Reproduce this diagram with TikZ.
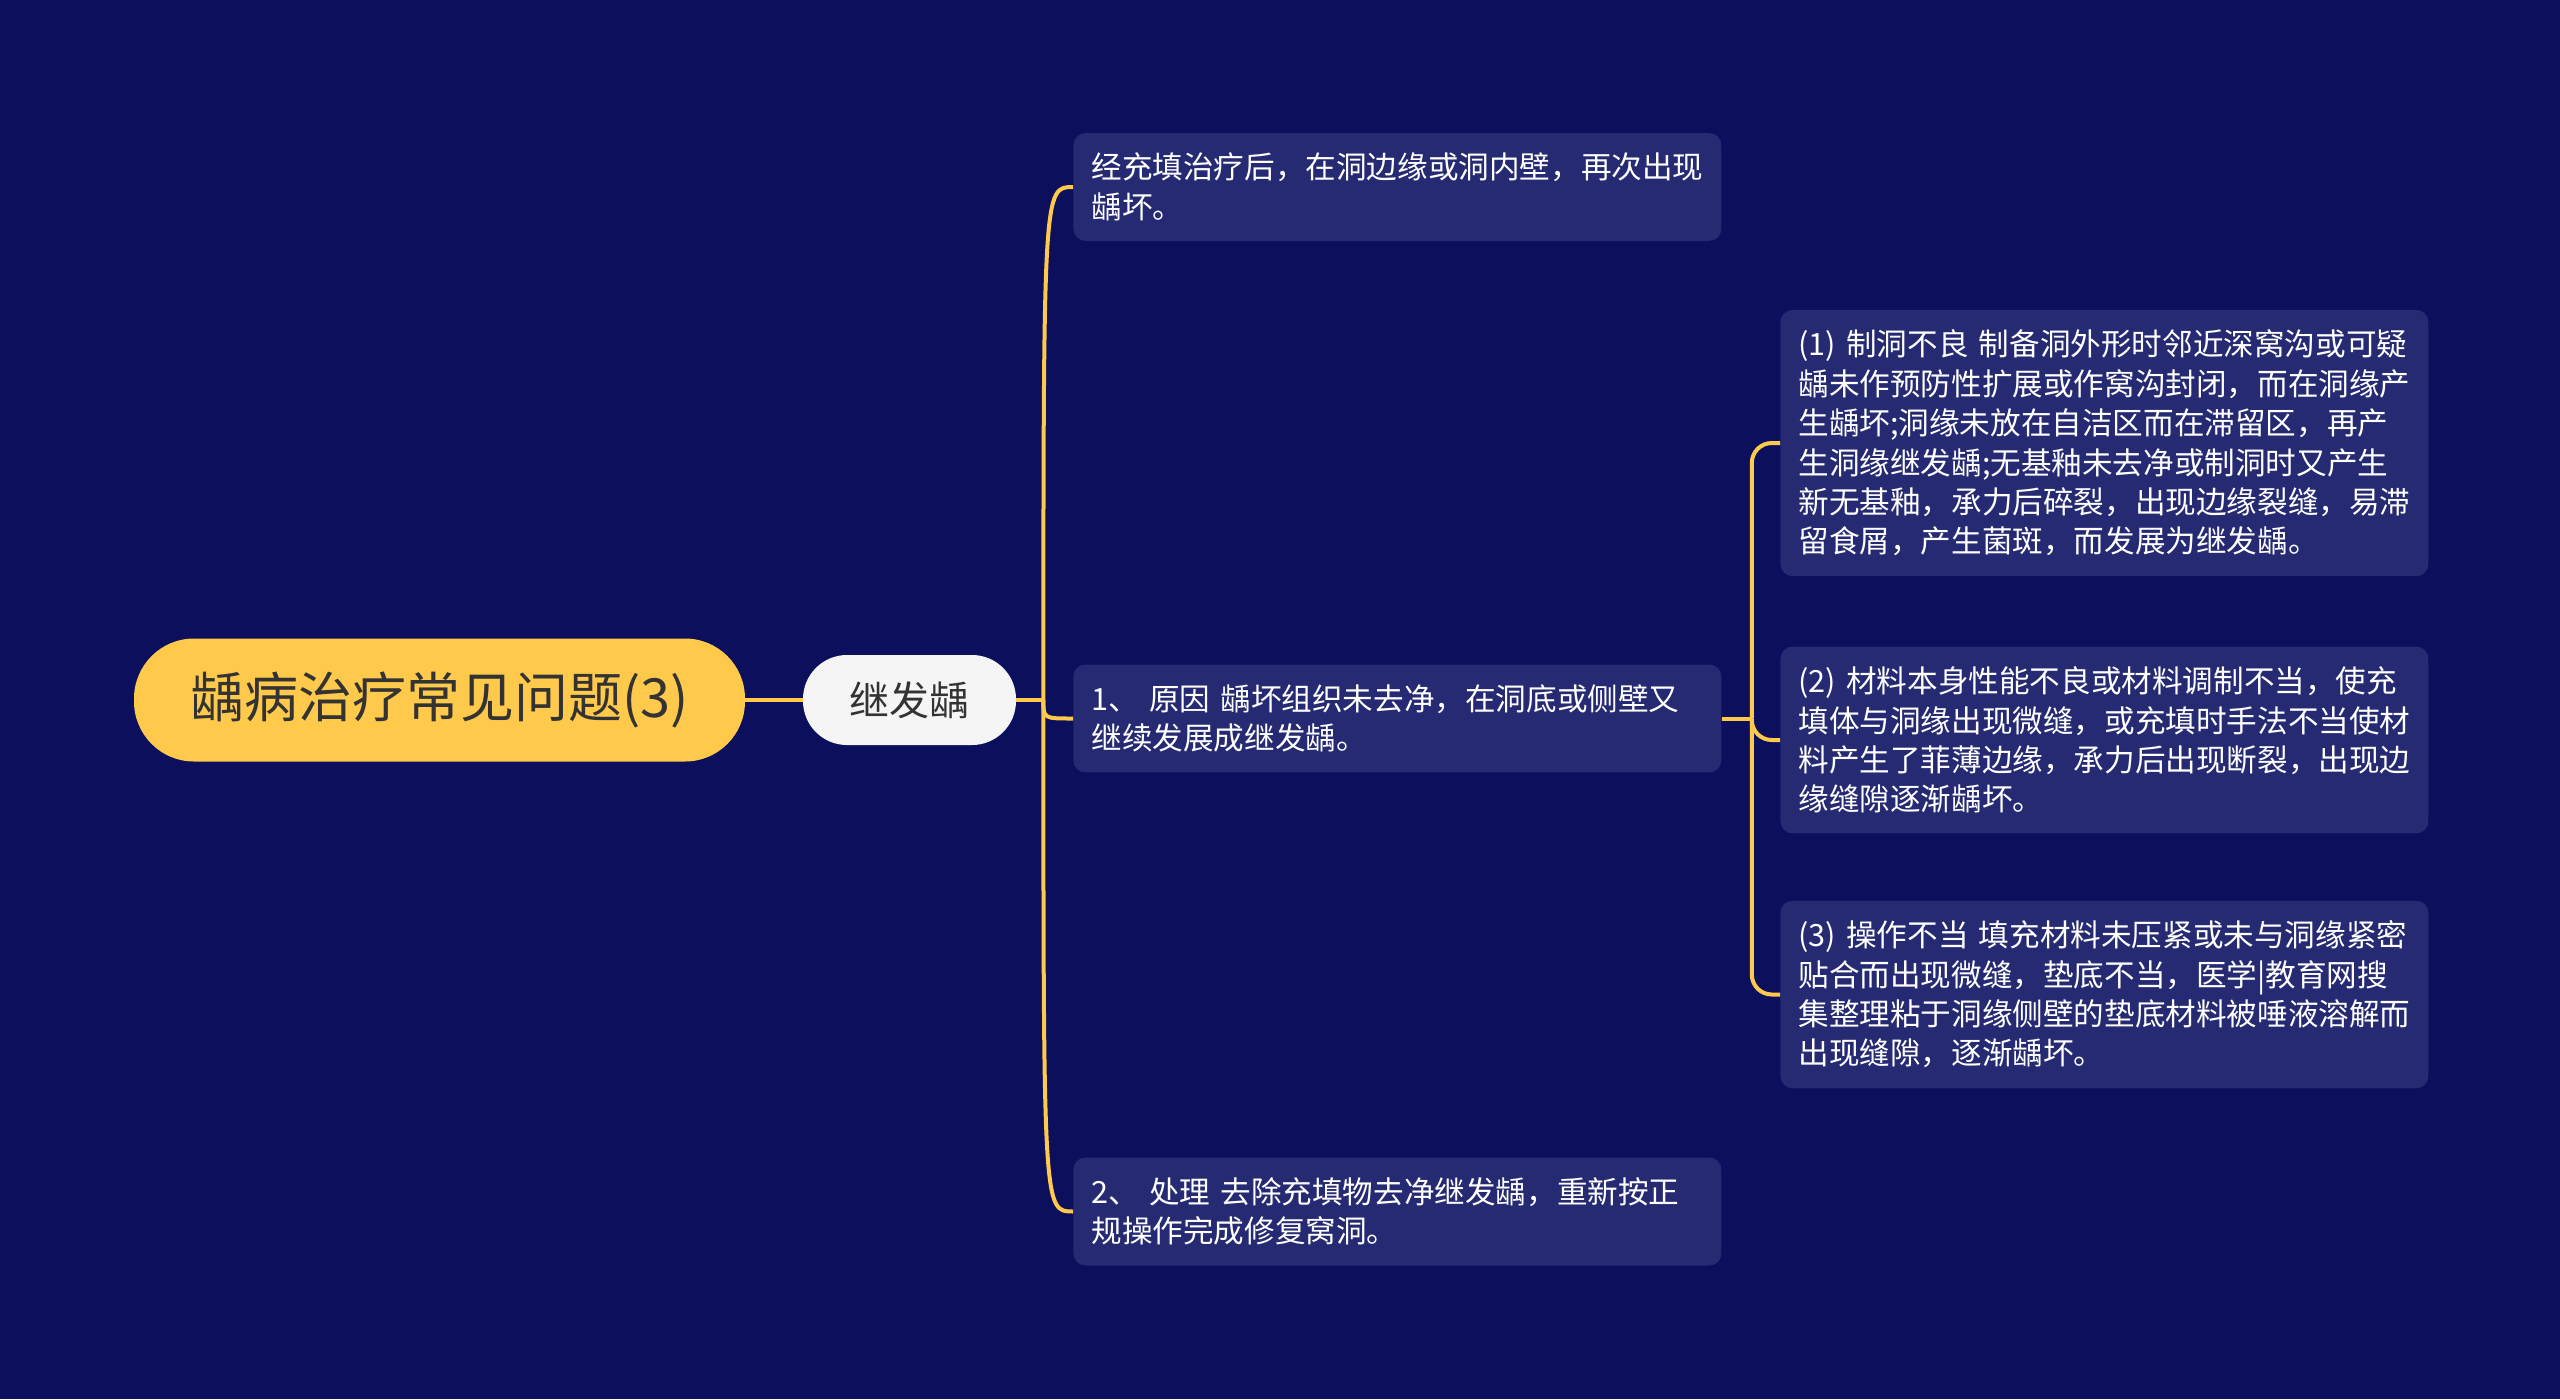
\documentclass[tikz,border=0pt]{standalone}
\usepackage{fontspec}
\setmainfont{Noto Sans CJK SC}
\definecolor{nightblue}{HTML}{0B0F5C}
\definecolor{cardblue}{HTML}{252A72}
\definecolor{mustard}{HTML}{FFC94B}
\definecolor{offwhite}{HTML}{F5F5F5}
\definecolor{inkgray}{HTML}{333333}

\begin{document}
\begin{tikzpicture}[x=0.5pt, y=-0.5pt,
  rootpill/.style={fill=mustard, text=inkgray, rounded corners=30pt,
    minimum width=305.5pt, minimum height=61.5pt, inner sep=0pt,
    font=\fontsize{27}{30}\selectfont},
  subpill/.style={fill=offwhite, text=inkgray, rounded corners=22pt,
    minimum width=106.5pt, minimum height=45pt, inner sep=0pt,
    font=\fontsize{20}{24}\selectfont},
  card/.style={fill=cardblue, text=white, rounded corners=6pt, anchor=west,
    text width=306pt, align=left, inner xsep=9pt, inner ysep=10pt,
    font=\fontsize{15.3}{19.7}\selectfont},
  limb/.style={mustard, line width=2pt}]

% canvas
\useasboundingbox (0,0) rectangle (2560,1399);
\fill[nightblue] (0,0) rectangle (2560,1399);

%%% Root and first level
\node[rootpill] (caries) at (439.5,700) {龋病治疗常见问题(3)};
\node[subpill] (secondary) at (909.5,700) {继发龋};

%%% Second level (left column of cards)
\node[card] (recur) at (1073,187) {经充填治疗后，在洞边缘或洞内壁，再次出现\\龋坏。};
\node[card] (cause) at (1073,718.5) {1、~原因~龋坏组织未去净，在洞底或侧壁又\\继续发展成继发龋。};
\node[card] (treat) at (1073,1211.5) {2、~处理~去除充填物去净继发龋，重新按正\\规操作完成修复窝洞。};

%%% Third level (right column of cards)
\node[card] (prep) at (1780,443) {(1)~制洞不良~制备洞外形时邻近深窝沟或可疑\\
龋未作预防性扩展或作窝沟封闭，而在洞缘产\\
生龋坏;洞缘未放在自洁区而在滞留区，再产\\
生洞缘继发龋;无基釉未去净或制洞时又产生\\
新无基釉，承力后碎裂，出现边缘裂缝，易滞\\
留食屑，产生菌斑，而发展为继发龋。};
\node[card] (matl) at (1780,740) {(2)~材料本身性能不良或材料调制不当，使充\\
填体与洞缘出现微缝，或充填时手法不当使材\\
料产生了菲薄边缘，承力后出现断裂，出现边\\
缘缝隙逐渐龋坏。};
\node[card] (oper) at (1780,994.5) {(3)~操作不当~填充材料未压紧或未与洞缘紧密\\
贴合而出现微缝，垫底不当，医学|教育网搜\\
集整理粘于洞缘侧壁的垫底材料被唾液溶解而\\
出现缝隙，逐渐龋坏。};

%%% Connectors
\coordinate (trunkL) at ([xshift=13.5pt]secondary.east);
\coordinate (trunkR) at ([xshift=15pt]cause.east);

\draw[limb] (caries) -- (secondary);
\draw[limb] (secondary) -- (trunkL);
\foreach \t in {recur, cause, treat}
  \draw[limb] (trunkL) .. controls (trunkL |- \t.west) .. (\t.west);

\draw[limb] (cause.east) -- (trunkR);
\foreach \t in {prep, matl, oper}
  \draw[limb, rounded corners=10pt] (trunkR) |- (\t.west);

\end{tikzpicture}
\end{document}
